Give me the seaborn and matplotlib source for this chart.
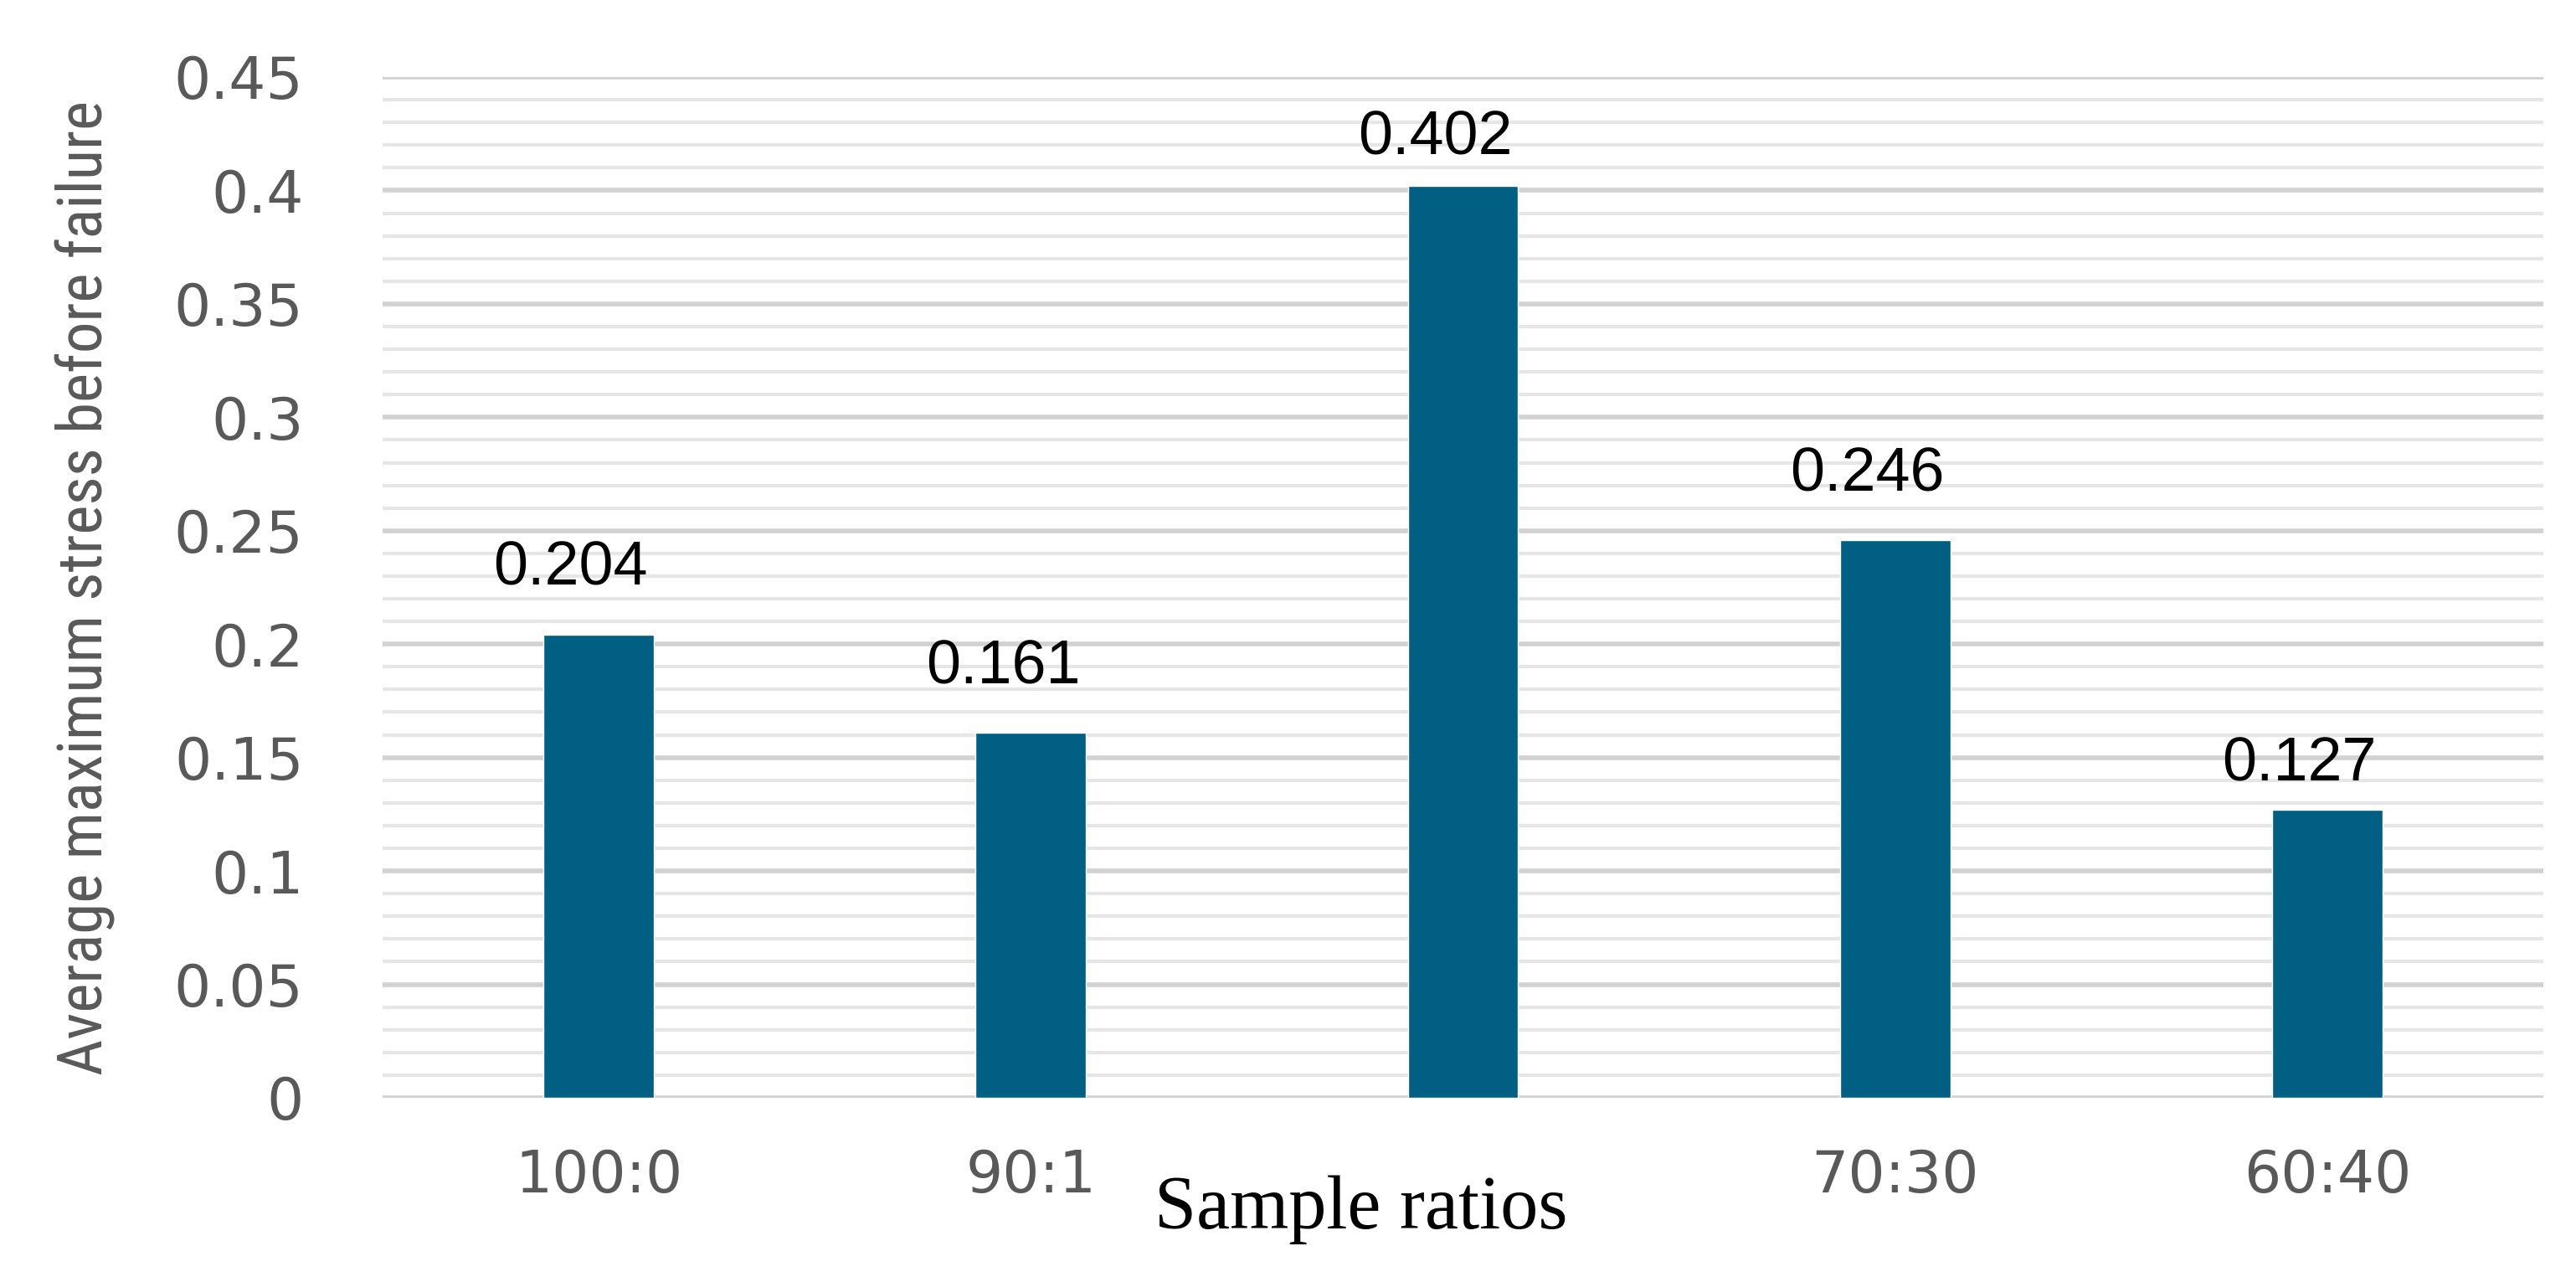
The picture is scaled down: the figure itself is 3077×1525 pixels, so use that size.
import numpy as np
import pandas as pd
import matplotlib
matplotlib.use("Agg")
import matplotlib.pyplot as plt
from matplotlib.ticker import MultipleLocator, FuncFormatter
from matplotlib import font_manager
import seaborn as sns

# ---- data ----
categories = ["100:0", "90:10", "80:20", "70:30", "60:40"]
values = [0.204, 0.161, 0.402, 0.246, 0.127]
value_labels = ["0.204", "0.161", "0.402", "0.246", "0.127"]
# tick labels as visible in the source picture (the axis title hides the middle one)
tick_labels = ["100:0", "90:1", "", "70:30", "60:40"]
y_ticks = [0, 0.05, 0.1, 0.15, 0.2, 0.25, 0.3, 0.35, 0.4, 0.45]

# label offsets above each bar (points) -- styling only
label_gap_pt = [43, 42, 27, 42, 25]

df = pd.DataFrame({"ratio": categories, "stress": values})

sns.set_theme(style="white")
plt.rcParams["font.family"] = ["Liberation Sans", "DejaVu Sans"]

names = {f.name for f in font_manager.fontManager.ttflist}
if "Liberation Sans Narrow" in names:
    ylab_family, ylab_size = ["Liberation Sans Narrow", "DejaVu Sans"], 52
elif "Roboto Condensed" in names:
    ylab_family, ylab_size = ["Roboto Condensed", "DejaVu Sans"], 54
else:
    ylab_family, ylab_size = ["Roboto", "DejaVu Sans"], 46

fig = plt.figure(figsize=(30.77, 15.25), dpi=100)
ax = fig.add_axes([457 / 3077, 1 - 1311 / 1525, (3038 - 457) / 3077, (1311 - 92) / 1525])

sns.barplot(data=df, x="ratio", y="stress", color="#005f83", saturation=1,
            width=0.255, ax=ax, order=categories)

ax.set_ylim(0, 0.45)
ax.set_yticks(y_ticks)
ax.yaxis.set_minor_locator(MultipleLocator(0.01))
ax.yaxis.set_major_formatter(FuncFormatter(lambda v, p: f"{v:g}"))
ax.grid(which="major", axis="y", color="#d2d2d2", linewidth=4.0)
ax.grid(which="minor", axis="y", color="#e6e6e6", linewidth=3.0)
ax.set_axisbelow(True)
for s in ax.spines.values():
    s.set_visible(False)

ax.set_xticks(range(len(categories)))
ax.set_xticklabels(tick_labels)
ax.tick_params(axis="both", which="both", length=0)
ax.tick_params(axis="y", pad=68, labelsize=50, labelcolor="#595959")
ax.tick_params(axis="x", pad=43, labelsize=50, labelcolor="#595959")
for t in ax.get_xticklabels() + ax.get_yticklabels():
    t.set_fontfamily(["DejaVu Sans"])

for patch, lab, gap in zip(ax.patches, value_labels, label_gap_pt):
    cx = patch.get_x() + patch.get_width() / 2
    ax.annotate(lab, xy=(cx, patch.get_height()), xytext=(-24, gap),
                textcoords="offset points", ha="center", va="baseline",
                fontsize=53, color="black",
                family=["Liberation Sans", "DejaVu Sans"])

ax.set_ylabel("Average maximum stress before failure", fontsize=ylab_size,
              color="#595959", family=ylab_family)
ax.yaxis.set_label_coords(-0.124, 0.5)

ax.set_xlabel("Sample ratios", fontsize=65, color="black",
              family=["Liberation Serif", "DejaVu Serif"])
ax.xaxis.set_label_coords((1626 - 457) / 2581, (1311 - 1467) / 1219)
ax.xaxis.label.set_verticalalignment("baseline")

fig.savefig("out.png", dpi=100, facecolor="white")
